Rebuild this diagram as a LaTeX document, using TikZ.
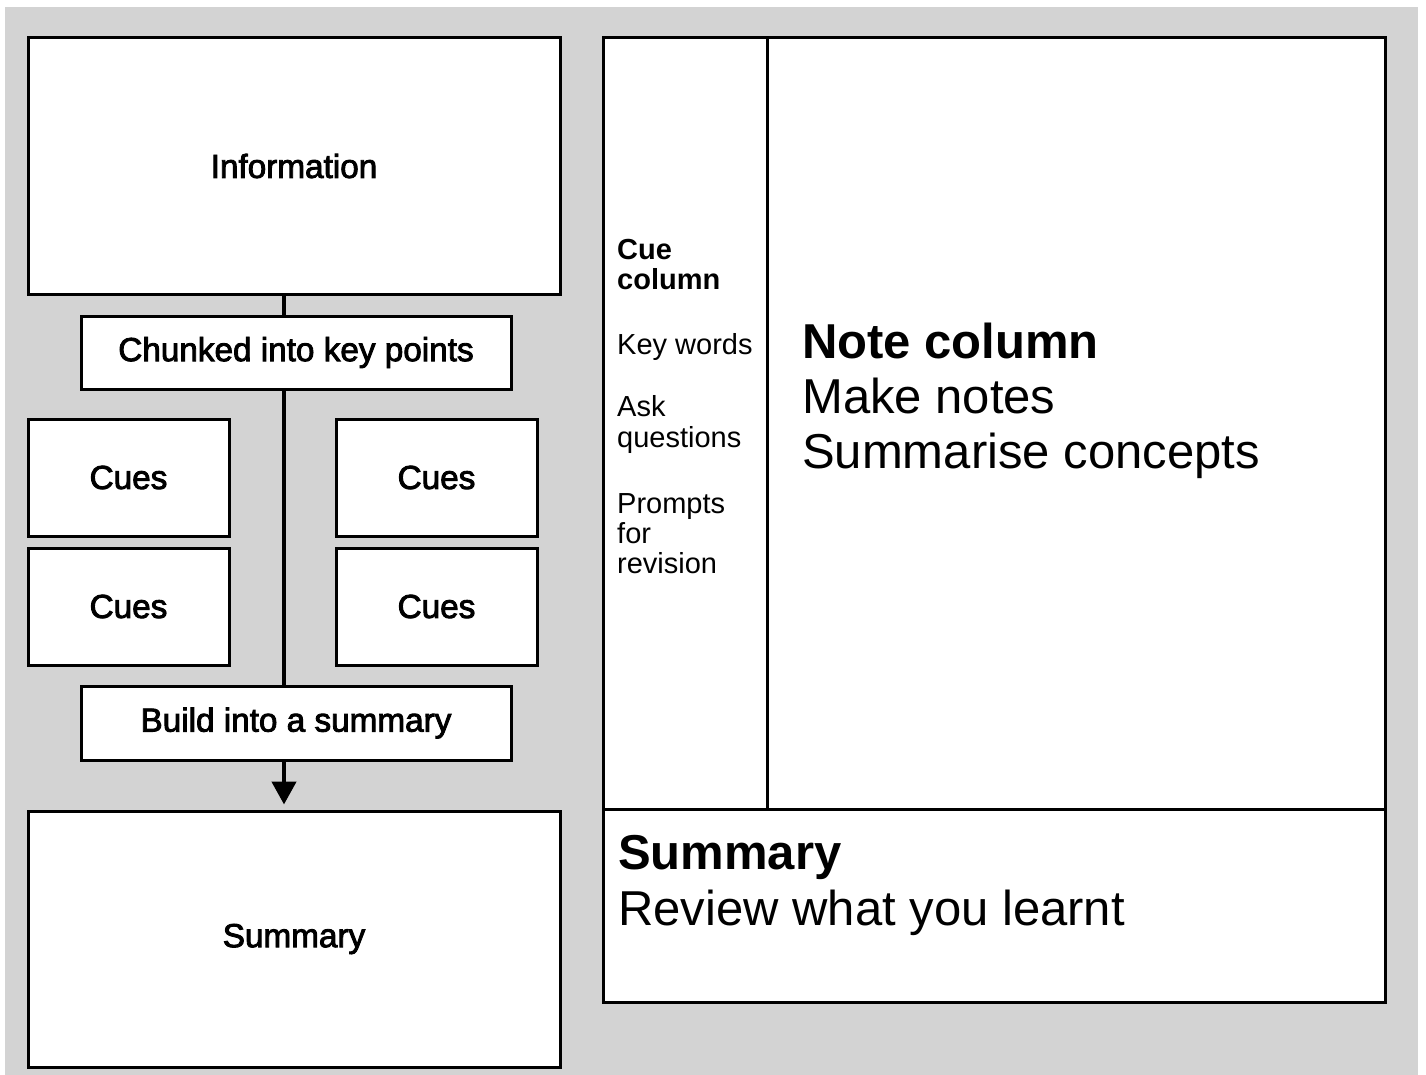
\documentclass[tikz,border=0pt]{standalone}
\usepackage{fontspec}
\setmainfont{Liberation Sans}
\newfontfamily\medfont[FakeBold=2.6]{Liberation Sans}
\usetikzlibrary{arrows.meta}
\definecolor{bg}{HTML}{D3D3D3}
\begin{document}
\begin{tikzpicture}[x=1pt,y=-1pt,
  box/.style={draw,line width=3pt,fill=white,inner sep=0pt,font=\medfont\fontsize{33.3}{38}\selectfont},
  frame/.style={draw,line width=3pt,fill=white,inner sep=0pt},
  spine/.style={line width=4.5pt},
  cuetxt/.style={anchor=base west,inner sep=0pt,font=\fontsize{29}{30}\selectfont},
  bigtxt/.style={anchor=base west,inner sep=0pt,font=\fontsize{49}{56}\selectfont}]
\useasboundingbox (0,0) rectangle (1426,1075);
\fill[bg] (5,7) rectangle (1418,1075);
\coordinate (sp) at (284,0);
% left flow
\node[box,minimum width=532pt,minimum height=256pt] (info) at (294,166) {Information};
\node[box,minimum width=430pt,minimum height=73pt] (chunk) at (296,352.5) {Chunked into key points};
\node[box,minimum width=201pt,minimum height=117pt] (c1) at (128.5,477.5) {Cues};
\node[box,minimum width=201pt,minimum height=117pt] (c2) at (436.5,477.5) {Cues};
\node[box,minimum width=201pt,minimum height=117pt] (c3) at (128.5,606.5) {Cues};
\node[box,minimum width=201pt,minimum height=117pt] (c4) at (436.5,606.5) {Cues};
\node[box,minimum width=430pt,minimum height=74pt] (build) at (296,723) {Build into a summary};
\node[box,minimum width=532pt,minimum height=256pt] (sumL) at (294,939) {Summary};
\draw[spine] (info.south -| sp) -- (chunk.north -| sp);
\draw[spine] (chunk.south -| sp) -- (build.north -| sp);
\draw[spine,-{Triangle[width=24pt,length=23pt]}] (build.south -| sp) -- ([yshift=5pt]sumL.north -| sp);
% right Cornell layout
\node[frame,minimum width=164pt,minimum height=771pt] (cuecol) at (685,423.5) {};
\node[frame,minimum width=618pt,minimum height=771pt] (notecol) at (1076,423.5) {};
\node[frame,minimum width=782pt,minimum height=193pt] (sumR) at (994,905.5) {};
\node[cuetxt] (t1) at (617,259) {\bfseries Cue};
\node[cuetxt] (t2) at (617,290) {\bfseries column};
\node[cuetxt] (t3) at (617,354) {Key words};
\node[cuetxt] (t4) at (617,416) {Ask};
\node[cuetxt] (t5) at (617,447) {questions};
\node[cuetxt] (t6) at (617,513) {Prompts};
\node[cuetxt] (t7) at (617,543) {for};
\node[cuetxt] (t8) at (617,573) {revision};
\node[bigtxt] (n1) at (802,358) {\bfseries Note column};
\node[bigtxt] (n2) at (802,413) {Make notes};
\node[bigtxt] (n3) at (802,468) {Summarise concepts};
\node[bigtxt] (s1) at (618,869) {\bfseries Summary};
\node[bigtxt] (s2) at (618,925) {Review what you learnt};
\end{tikzpicture}
\end{document}
